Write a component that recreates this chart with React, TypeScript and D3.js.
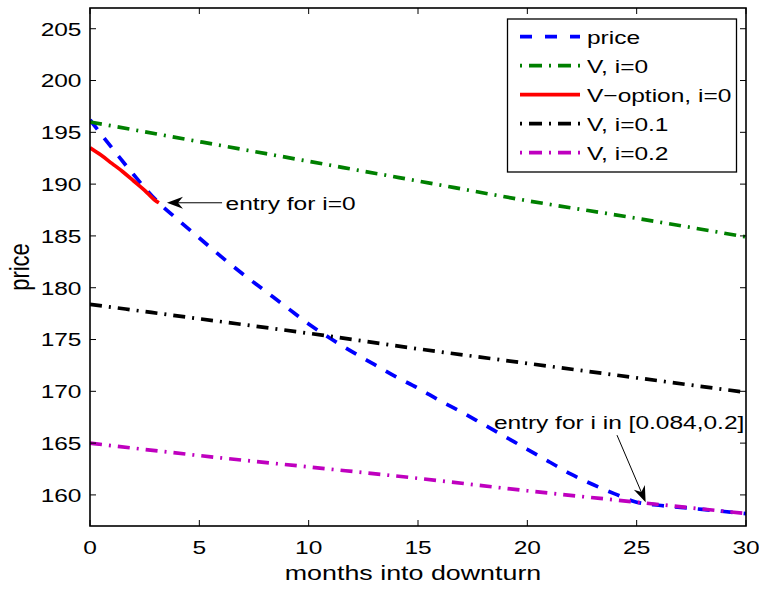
import * as d3 from "d3";

// price path (blue), monthly
const priceMonths = [
  0, 1, 2, 3, 4, 5, 6, 7, 8, 9, 10, 11, 12, 13, 14, 15, 16, 17, 18, 19, 20,
  21, 22, 23, 24, 25, 26, 27, 28, 29, 30,
];
const priceValues = [
  196.2, 193.5, 190.9, 188.5, 186.6, 184.8, 183.0, 181.3, 179.7, 178.1, 176.5,
  175.1, 173.8, 172.6, 171.4, 170.3, 169.1, 168.0, 166.8, 165.6, 164.4, 163.2,
  162.0, 161.0, 160.1, 159.3, 159.0, 158.8, 158.6, 158.4, 158.2,
];

// value curves, every 5 months
const vMonths = [0, 5, 10, 15, 20, 25, 30];
const vI0 = [196.0, 194.1, 192.2, 190.3, 188.4, 186.7, 184.9];
const vI01 = [178.4, 177.0, 175.6, 174.1, 172.7, 171.3, 169.9];
const vI02 = [165.0, 163.8, 162.7, 161.6, 160.4, 159.3, 158.2];

// option value for i=0, until entry
const optMonths = [0, 0.5, 1, 1.5, 2, 2.5, 3, 3.15];
const optValues = [193.5, 192.8, 192.0, 191.2, 190.3, 189.4, 188.4, 188.2];

const xTicks = [0, 5, 10, 15, 20, 25, 30];
const yTicks = [160, 165, 170, 175, 180, 185, 190, 195, 200, 205];

const legendLabels = ["price", "V, i=0", "V\u2212option, i=0", "V, i=0.1", "V, i=0.2"];

const W = 759;
const H = 589;
const left = 90;
const right = 746;
const top = 8;
const bottom = 526;
const SX = 1.29; // horizontal stretch of the text
const FONT = "'Liberation Sans', Arial, Helvetica, sans-serif";

const DASH = "12 11";
const DASHDOT = "12 7 2 7";

const x = d3.scaleLinear().domain([0, 30]).range([left, right]);
const y = d3.scaleLinear().domain([157, 207]).range([bottom, top]);

const T = ({ x0, y0, size, anchor = "start", rotate = 0, children }: any) => (
  <text
    transform={`translate(${x0},${y0}) scale(${SX},1)${rotate ? ` rotate(${rotate})` : ""}`}
    fontSize={size}
    fontFamily={FONT}
    textAnchor={anchor}
    fill="#000"
  >
    {children}
  </text>
);

const Arrow = ({ x1, y1, x2, y2 }: any) => {
  // x2,y2 is the tip
  const ang = Math.atan2(y2 - y1, x2 - x1);
  const len = 16;
  const half = 6;
  const notch = 11;
  const ux = Math.cos(ang);
  const uy = Math.sin(ang);
  const px = -uy;
  const py = ux;
  const bx = x2 - ux * len;
  const by = y2 - uy * len;
  const nx = x2 - ux * notch;
  const ny = y2 - uy * notch;
  const d = `M${x2},${y2} L${bx + px * half},${by + py * half} L${nx},${ny} L${bx - px * half},${by - py * half} Z`;
  return (
    <g>
      <line x1={x1} y1={y1} x2={nx} y2={ny} stroke="#000" strokeWidth={1} />
      <path d={d} fill="#000" />
    </g>
  );
};

export default function App() {
  const line = (xs: number[], ys: number[]) =>
    d3
      .line<number>()
      .x((_, i) => x(xs[i]))
      .y((d) => y(d))
      .curve(d3.curveMonotoneX)(ys) as string;

  const series = [
    { xs: priceMonths, ys: priceValues, color: "#0000ff", dash: DASH },
    { xs: vMonths, ys: vI0, color: "#008000", dash: DASHDOT },
    { xs: optMonths, ys: optValues, color: "#ff0000", dash: "" },
    { xs: vMonths, ys: vI01, color: "#000000", dash: DASHDOT },
    { xs: vMonths, ys: vI02, color: "#bf00bf", dash: DASHDOT },
  ];

  const tl = 6;
  const legX = 507.5;
  const legY = 19;
  const legW = 229;
  const legH = 153;
  const rowY = (i: number) => 36.7 + i * 29;

  return (
    <svg width={W} height={H} style={{ position: "absolute", left: 0, top: 0, background: "#fff" }}>
      <rect x={0} y={0} width={W} height={H} fill="#fff" />
      <defs>
        <clipPath id="plot">
          <rect x={left} y={top} width={right - left} height={bottom - top} />
        </clipPath>
      </defs>

      {/* data lines */}
      <g clipPath="url(#plot)">
        {series.map((s, i) => (
          <path
            key={i}
            d={line(s.xs, s.ys)}
            fill="none"
            stroke={s.color}
            strokeWidth={3.7}
            strokeDasharray={s.dash || undefined}
          />
        ))}
      </g>

      {/* ticks */}
      {xTicks.map((t) => (
        <g key={"x" + t}>
          <line x1={x(t)} x2={x(t)} y1={bottom} y2={bottom - tl} stroke="#000" strokeWidth={1} />
          <line x1={x(t)} x2={x(t)} y1={top} y2={top + tl} stroke="#000" strokeWidth={1} />
          <T x0={x(t)} y0={554} size={19} anchor="middle">
            {t}
          </T>
        </g>
      ))}
      {yTicks.map((t) => (
        <g key={"y" + t}>
          <line x1={left} x2={left + tl} y1={y(t)} y2={y(t)} stroke="#000" strokeWidth={1} />
          <line x1={right} x2={right - tl} y1={y(t)} y2={y(t)} stroke="#000" strokeWidth={1} />
          <T x0={81.5} y0={y(t) + 6.8} size={19} anchor="end">
            {t}
          </T>
        </g>
      ))}

      {/* box */}
      <rect x={left} y={top} width={right - left} height={bottom - top} fill="none" stroke="#000" strokeWidth={1.6} />

      {/* axis labels */}
      <T x0={413} y0={580} size={20.8} anchor="middle">
        months into downturn
      </T>
      <T x0={29} y0={267} size={22} anchor="middle" rotate={-90}>
        price
      </T>

      {/* annotations */}
      <Arrow x1={x(6.04)} y1={y(188.2)} x2={x(3.52)} y2={y(188.2)} />
      <T x0={x(6.2)} y0={y(188.2) + 7} size={19}>
        entry for i=0
      </T>
      <Arrow x1={x(24.1)} y1={y(165.77)} x2={x(25.41)} y2={y(159.3)} />
      <T x0={x(18.47)} y0={y(167.05) + 7} size={19}>
        entry for i in [0.084,0.2]
      </T>

      {/* legend */}
      <rect x={legX} y={legY} width={legW} height={legH} fill="#fff" stroke="#000" strokeWidth={1.3} />
      {series.map((s, i) => (
        <g key={"l" + i}>
          <line
            x1={520}
            x2={580}
            y1={rowY(i)}
            y2={rowY(i)}
            stroke={s.color}
            strokeWidth={3.7}
            strokeDasharray={i === 0 ? "12 13" : s.dash ? "2 7 13 7" : undefined}
          />
          <T x0={587} y0={rowY(i) + 6.8} size={19}>
            {legendLabels[i]}
          </T>
        </g>
      ))}
    </svg>
  );
}
